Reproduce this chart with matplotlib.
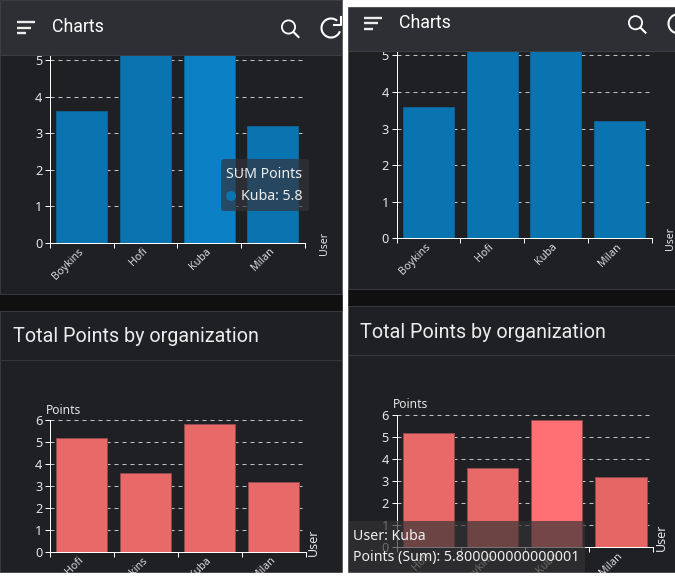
import matplotlib
matplotlib.use('Agg')
import matplotlib.pyplot as plt
from matplotlib.patches import Rectangle, FancyBboxPatch, Circle, Arc

W, H = 675, 584
plt.rcParams['font.family'] = ['Roboto', 'DejaVu Sans']
UI_FONT = ['Noto Sans', 'DejaVu Sans']

# data
users_a = ['Boykins', 'Hofi', 'Kuba', 'Milan']
points_a = [3.6, 5.2, 5.8, 3.2]
users_b = ['Hofi', 'Boykins', 'Kuba', 'Milan']
points_b = [5.2, 3.6, 5.8, 3.2]
yticks = [0, 1, 2, 3, 4, 5, 6]

BLUE = '#0a74b0'
BLUE_HI = '#0c80c4'
RED = '#e96969'
RED_HI = '#ff7075'
PANEL = '#1f2024'
HEADER = '#2e2f34'
GAP = '#101010'
LIGHT = '#e6e6e6'

fig = plt.figure(figsize=(W / 100, H / 100), dpi=100, facecolor='white')


# everything on the page is placed in screenshot pixels
def px_axes(left, right, top, bottom, zorder):
    return fig.add_axes([left / W, 1 - bottom / H, (right - left) / W, (bottom - top) / H], zorder=zorder)


def bar_chart(left, right, y0, unit, users, points, colors, edges):
    ax = px_axes(left, right, y0 - 6 * unit, y0, 1)
    ax.patch.set_visible(False)
    ax.bar(range(4), points, width=0.8, color=colors, edgecolor=edges, linewidth=0.72, zorder=3)
    ax.set_xlim(-0.5, 3.5)
    ax.set_ylim(0, 6)
    ax.set_yticks(yticks)
    ax.set_xticks([-0.5, 0.5, 1.5, 2.5, 3.5])
    ax.set_xticklabels([])
    ax.set_xticks(range(4), users, minor=True)
    ax.tick_params(axis='x', which='major', length=3.6, width=0.72, color='white')
    ax.tick_params(axis='x', which='minor', length=0, pad=5, labelsize=7.7, labelcolor='#dcdcdc')
    ax.tick_params(axis='y', length=3.6, width=0.72, color='white', pad=2, labelsize=9.2, labelcolor=LIGHT)
    for lab in ax.get_xticklabels(minor=True):
        lab.set_rotation(45)
        lab.set_ha('right')
        lab.set_va('center')
        lab.set_rotation_mode('anchor')
        lab.set_family(UI_FONT)
    for tick in ax.get_yticklabels():
        tick.set_family(UI_FONT)
        tick.set_fontweight('medium')
    ax.grid(axis='y', color='#c4c4c4', linewidth=0.72, linestyle=(0, (4, 4)), zorder=1)
    for s in ['top', 'right']:
        ax.spines[s].set_visible(False)
    for s in ['left', 'bottom']:
        ax.spines[s].set_color('white')
        ax.spines[s].set_linewidth(0.72)
    return ax


# page background
bg = px_axes(0, W, 0, H, 0)
bg.set_xlim(0, W)
bg.set_ylim(H, 0)
bg.axis('off')
bg.add_patch(Rectangle((0, 0), 343, 573, color=GAP))
bg.add_patch(Rectangle((347, 6), 328, 567, color=GAP))
bg.add_patch(Rectangle((0, 55), 342, 239, fc=PANEL, ec='#3a3b40', lw=0.7))
bg.add_patch(Rectangle((0, 311), 342, 262, fc=PANEL, ec='#3a3b40', lw=0.7))
bg.add_patch(Rectangle((348, 51), 330, 238, fc=PANEL, ec='#3a3b40', lw=0.7))
bg.add_patch(Rectangle((348, 306), 330, 267, fc=PANEL, ec='#3a3b40', lw=0.7))
bg.plot([0, 342], [359.5, 359.5], color='#35363b', lw=0.8)
bg.plot([348, 675], [354.5, 354.5], color='#35363b', lw=0.8)

# charts
edge_b = '#0f5f8f'
edge_r = '#8f4a50'
bar_chart(50, 304.5, 243, 36.6, users_a, points_a, [BLUE, BLUE, BLUE_HI, BLUE], edge_b)
bar_chart(396.6, 651.5, 238.3, 36.6, users_a, points_a, [BLUE, BLUE, BLUE, BLUE], edge_b)
bar_chart(50, 305.5, 552, 22, users_b, points_b, [RED, RED, RED, RED], edge_r)
bar_chart(396.6, 653, 547.3, 22, users_b, points_b, [RED, RED, RED_HI, '#e66666'], edge_r)

# top layer: headers, labels, tooltips, page edges
top = px_axes(0, W, 0, H, 5)
top.set_xlim(0, W)
top.set_ylim(H, 0)
top.axis('off')
top.patch.set_visible(False)


def header(x0, x1, y0, y1):
    top.add_patch(Rectangle((x0, y0), x1 - x0, y1 - y0, fc=HEADER, ec='#3e3f44', lw=0.7))
    top.plot([x0 + 17, x0 + 35], [y1 - 33, y1 - 33], color='#ececec', lw=1.7, solid_capstyle='butt')
    top.plot([x0 + 17, x0 + 31], [y1 - 27.5, y1 - 27.5], color='#ececec', lw=1.7, solid_capstyle='butt')
    top.plot([x0 + 17, x0 + 26], [y1 - 22, y1 - 22], color='#ececec', lw=1.7, solid_capstyle='butt')
    top.text(x0 + 52, y1 - 28, 'Charts', color='white', fontsize=12.8, va='center', ha='left')
    top.add_patch(Circle((x0 + 288.5, y1 - 28), 6.6, fc='none', ec='white', lw=1.3))
    top.plot([x0 + 293.5, x0 + 298.5], [y1 - 23, y1 - 18], color='white', lw=1.5)
    top.add_patch(Arc((x0 + 331, y1 - 27), 19, 19, theta1=20, theta2=310, ec='white', lw=1.5))
    top.plot([x0 + 341, x0 + 341, x0 + 334], [y1 - 38, y1 - 30, y1 - 30], color='white', lw=1.5)


header(0, 342, 0, 55)
header(347, 678, 6, 50.7)

top.text(13, 337, 'Total Points by organization', color='#ececec', fontsize=14.2, va='center')
top.text(360, 332, 'Total Points by organization', color='#ececec', fontsize=14.2, va='center')
top.text(46, 410, 'Points', color=LIGHT, fontsize=8.7, va='center', family=UI_FONT)
top.text(393, 405, 'Points', color=LIGHT, fontsize=8.7, va='center', family=UI_FONT)
top.text(324, 243, 'User', color=LIGHT, fontsize=7.6, rotation=90, va='center', ha='center', family=UI_FONT)
top.text(671, 238, 'User', color=LIGHT, fontsize=7.6, rotation=90, va='center', ha='center', family=UI_FONT)
top.text(313, 542, 'User', color=LIGHT, fontsize=9, rotation=90, va='center', ha='center', family=UI_FONT)
top.text(661, 537, 'User', color=LIGHT, fontsize=9, rotation=90, va='center', ha='center', family=UI_FONT)

# hover tooltip on the left chart
top.add_patch(FancyBboxPatch((221, 159), 88, 52, boxstyle='round,pad=0,rounding_size=3', fc=(0.2, 0.2, 0.23, 0.69), ec='none', mutation_aspect=1))
top.text(226, 175, 'SUM Points', color='#eeeeee', fontsize=10.2, va='center', family=UI_FONT)
top.add_patch(Circle((231, 196), 5, fc=BLUE, ec='none'))
top.text(241, 196, 'Kuba: 5.8', color='#eeeeee', fontsize=10.2, va='center', family=UI_FONT)

# hover tooltip on the right chart
top.add_patch(FancyBboxPatch((348, 521), 237, 52, boxstyle='round,pad=0,rounding_size=2', fc=(0.2, 0.2, 0.2, 0.68), ec='none', mutation_aspect=1))
top.text(353, 537, 'User: Kuba', color='#f0f0f0', fontsize=10.2, va='center', family=UI_FONT)
top.text(353, 558, 'Points (Sum): 5.800000000000001', color='#f0f0f0', fontsize=10.2, va='center', family=UI_FONT)

# white edges of the screenshot
top.add_patch(Rectangle((0, 573), W, 11, color='white', zorder=10))
top.add_patch(Rectangle((343, 0), 4, 573, color='white', zorder=10))
top.add_patch(Rectangle((347, 0), 328, 6, color='white', zorder=10))

plt.savefig('out.png', dpi=100, facecolor='white')
